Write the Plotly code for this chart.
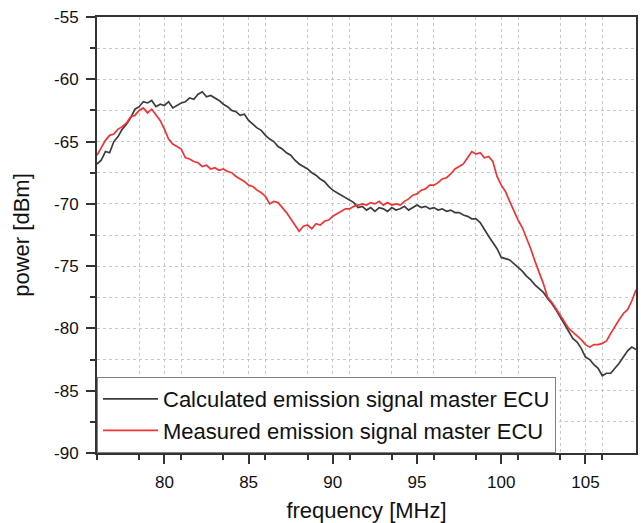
import plotly.graph_objects as go

# Calculated emission (dBm), 76..108 MHz every 0.25 MHz
calculated = [
    -66.8, -66.5, -65.8, -65.9, -65.0, -64.6, -64.0, -63.6,
    -63.1, -62.4, -62.2, -61.8, -61.9, -61.7, -62.2, -62.0,
    -62.1, -61.8, -62.3, -62.1, -61.9, -61.8, -61.5, -61.6,
    -61.2, -61.0, -61.4, -61.3, -61.5, -61.7, -62.0, -62.2,
    -62.5, -62.6, -62.9, -62.8, -63.3, -63.6, -63.9, -64.1,
    -64.5, -64.8, -65.0, -65.4, -65.6, -65.9, -66.1, -66.5,
    -66.8, -67.0, -67.2, -67.5, -67.7, -68.0, -68.2, -68.6,
    -68.9, -69.1, -69.3, -69.5, -69.7, -69.9, -70.3, -70.2,
    -70.5, -70.3, -70.6, -70.3, -70.4, -70.6, -70.3, -70.5,
    -70.4, -70.2, -70.5, -70.3, -70.1, -70.3, -70.2, -70.4,
    -70.3, -70.5, -70.4, -70.6, -70.5, -70.7, -70.7, -70.9,
    -71.0, -71.2, -71.2, -71.5, -72.1, -72.6, -73.1, -73.6,
    -74.3, -74.4, -74.5, -74.8, -75.1, -75.4, -75.8, -76.1,
    -76.5, -76.8, -77.1, -77.6, -78.0, -78.5, -79.1, -79.6,
    -80.3, -80.8, -81.1, -81.6, -82.3, -82.5, -82.9, -83.2,
    -83.8, -83.6, -83.6, -83.2, -82.8, -82.3, -81.8, -81.5,
    -81.7,
]

# Measured emission (dBm), same frequency grid
measured = [
    -66.1, -65.5, -64.9, -64.5, -64.4, -64.0, -63.8, -63.5,
    -63.0, -62.9, -62.5, -62.3, -62.7, -62.4, -62.9, -63.3,
    -64.0, -64.8, -65.2, -65.4, -65.6, -66.3, -66.4, -66.6,
    -66.7, -67.0, -66.9, -67.2, -67.1, -67.3, -67.2, -67.4,
    -67.5, -67.8, -68.0, -68.2, -68.5, -68.6, -68.9, -69.1,
    -69.4, -70.0, -69.8, -69.9, -70.3, -70.7, -71.2, -71.7,
    -72.2, -71.8, -71.7, -72.0, -71.6, -71.7, -71.4, -71.3,
    -71.0, -70.8, -70.6, -70.4, -70.4, -70.2, -70.1, -70.0,
    -70.1, -69.9, -70.0, -69.8, -70.1, -69.9, -70.1, -70.0,
    -70.1, -69.8, -69.6, -69.3, -69.2, -68.9, -68.8, -68.5,
    -68.5, -68.3, -68.0, -67.9, -67.6, -67.2, -67.0, -66.8,
    -66.3, -65.8, -66.0, -65.9, -66.3, -66.2, -66.6, -67.8,
    -68.5, -69.0, -69.8, -70.6, -71.3, -71.9, -72.7, -73.6,
    -74.6, -75.5, -76.4, -77.5, -77.9, -78.4, -78.9, -79.5,
    -80.0, -80.3, -80.6, -80.9, -81.3, -81.5, -81.3, -81.3,
    -81.2, -81.0, -80.4, -79.8, -79.3, -78.8, -78.5, -77.8,
    -76.9,
]

freq = [76 + 0.25 * i for i in range(len(calculated))]

x_ticks = [80, 85, 90, 95, 100, 105]
x_labels = ["80", "85", "90", "95", "100", "105"]
y_ticks = [-90, -85, -80, -75, -70, -65, -60, -55]
y_labels = ["-90", "-85", "-80", "-75", "-70", "-65", "-60", "-55"]

fig = go.Figure()
fig.add_trace(go.Scatter(x=freq, y=calculated, mode="lines",
                         name="Calculated emission signal master ECU",
                         line=dict(color="#3c3c3c", width=1.7)))
fig.add_trace(go.Scatter(x=freq, y=measured, mode="lines",
                         name="Measured emission signal master ECU",
                         line=dict(color="#f03434", width=1.7)))

axis_common = dict(
    ticks="outside", ticklen=9, tickwidth=1.5, tickcolor="#333333",
    showline=True, linecolor="#333333", linewidth=2, mirror=True,
    tickfont=dict(size=17, color="#111111"),
    showgrid=True, gridcolor="#c8c8c8", griddash="dot", gridwidth=1,
    zeroline=False,
)

fig.update_layout(
    width=641, height=523,
    margin=dict(l=97, r=3, t=17, b=70),
    paper_bgcolor="white", plot_bgcolor="white",
    font=dict(family="Liberation Sans, Arial, sans-serif", color="#111111"),
    showlegend=True,
    legend=dict(x=0, y=0, xanchor="left", yanchor="bottom",
                bgcolor="white", bordercolor="#808080", borderwidth=1,
                font=dict(size=22), tracegroupgap=0, itemwidth=55),
    xaxis=dict(range=[76, 108], tickvals=x_ticks, ticktext=x_labels,
               ticklabelstandoff=4,
               title=dict(text="frequency [MHz]", font=dict(size=22), standoff=12),
               minor=dict(dtick=2.5, tick0=76, ticks="outside", ticklen=5,
                          tickcolor="#333333", showgrid=True,
                          gridcolor="#c8c8c8", griddash="dot"),
               **axis_common),
    yaxis=dict(range=[-90, -55], tickvals=y_ticks, ticktext=y_labels,
               ticklabelstandoff=4,
               title=dict(text="power [dBm]", font=dict(size=22), standoff=18),
               minor=dict(dtick=2.5, tick0=-90, ticks="outside", ticklen=5,
                          tickcolor="#333333", showgrid=True,
                          gridcolor="#c8c8c8", griddash="dot"),
               **axis_common),
)

fig.write_html(
    "out.html",
    config={"displayModeBar": False},
    post_script="document.body.style.margin='0px';"
                "document.documentElement.style.overflow='hidden';",
)
